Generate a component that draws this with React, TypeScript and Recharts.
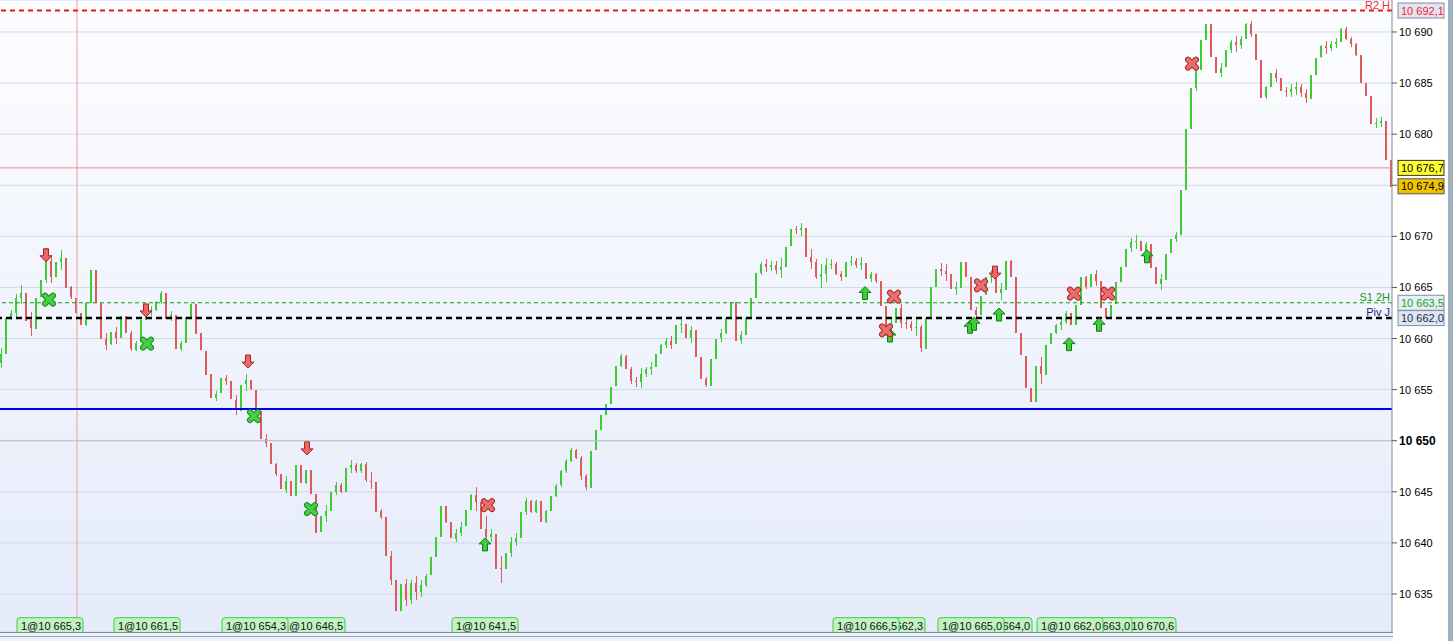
import {
  Bar,
  CartesianGrid,
  Cell,
  ComposedChart,
  ReferenceLine,
  Scatter,
  XAxis,
  YAxis,
} from "recharts"

// closing prices, one candle every ~5px of the original screen
const closes = [
  10658.5, 10662.0, 10662.5, 10664.0, 10664.5, 10661.8, 10661.0, 10664.0, 10665.7, 10667.6,
  10666.0, 10667.5, 10667.9, 10665.0, 10664.0, 10662.5, 10661.3, 10663.5, 10666.7, 10663.5,
  10660.0, 10659.4, 10660.6, 10660.0, 10662.2, 10660.5, 10658.9, 10659.6, 10661.8, 10662.6,
  10662.8, 10663.6, 10664.5, 10662.0, 10662.3, 10659.0, 10659.6, 10662.1, 10663.4, 10660.5,
  10658.8, 10656.5, 10654.2, 10654.6, 10656.1, 10655.8, 10654.0, 10653.0, 10655.5, 10655.9,
  10655.0, 10652.9, 10650.2, 10649.8, 10647.7, 10646.7, 10645.2, 10646.1, 10644.6, 10647.6,
  10645.8, 10647.1, 10644.8, 10641.0, 10642.6, 10643.1, 10645.0, 10645.7, 10645.0, 10647.3,
  10647.6, 10647.0, 10647.7, 10646.1, 10646.0, 10643.1, 10642.5, 10638.7, 10636.4, 10633.4,
  10636.0, 10634.4, 10636.1, 10635.2, 10635.9, 10636.8, 10638.6, 10640.6, 10643.6, 10642.0,
  10640.4, 10641.0, 10641.6, 10643.2, 10644.7, 10644.0, 10641.4, 10640.6, 10640.9, 10637.5,
  10637.4, 10639.0, 10640.1, 10640.5, 10643.0, 10644.1, 10643.0, 10644.1, 10642.0, 10643.1,
  10644.6, 10645.6, 10647.0, 10648.0, 10649.1, 10648.3, 10646.5, 10645.4, 10649.0, 10651.0,
  10652.5, 10653.6, 10655.3, 10657.3, 10658.3, 10657.0, 10655.8, 10655.7, 10656.5, 10657.0,
  10657.2, 10658.5, 10659.4, 10659.8, 10659.4, 10661.3, 10661.4, 10660.0, 10660.8, 10658.2,
  10656.0, 10655.4, 10658.0, 10660.0, 10660.5, 10662.0, 10663.6, 10659.8, 10660.3, 10662.0,
  10664.0, 10666.4, 10667.3, 10667.0, 10667.2, 10666.7, 10667.0, 10669.0, 10670.7, 10670.6,
  10670.8, 10668.0, 10667.5, 10666.0, 10666.3, 10667.2, 10667.3, 10666.3, 10666.0, 10667.5,
  10667.6, 10667.2, 10667.4, 10665.8, 10666.3, 10665.6, 10663.2, 10660.4, 10661.5, 10663.0,
  10661.5, 10661.4, 10661.0, 10661.1, 10659.0, 10662.0, 10665.0, 10666.8, 10666.6, 10666.3,
  10664.8, 10665.0, 10667.5, 10666.0, 10662.8, 10662.3, 10664.2, 10666.0, 10666.1, 10664.4,
  10664.8, 10667.6, 10666.0, 10660.5, 10658.3, 10655.2, 10653.8, 10657.3, 10656.5, 10659.4,
  10660.5, 10661.3, 10661.6, 10662.5, 10661.3, 10663.3, 10666.0, 10665.0, 10666.3, 10665.6,
  10663.0, 10662.0, 10663.3, 10665.5, 10667.0, 10668.8, 10669.4, 10669.5, 10668.5, 10669.3,
  10667.0, 10665.3, 10665.8, 10668.3, 10669.7, 10670.1, 10674.5, 10680.5, 10684.5, 10686.3,
  10689.2, 10690.8, 10687.6, 10686.0, 10686.5, 10688.2, 10689.0, 10688.7, 10689.3, 10690.8,
  10689.8, 10687.3, 10683.6, 10684.6, 10686.0, 10685.5, 10684.2, 10684.1, 10684.4, 10684.6,
  10684.0, 10683.5, 10685.8, 10687.5, 10688.6, 10688.4, 10688.8, 10689.0, 10690.3, 10689.3,
  10688.8, 10687.7, 10685.0, 10683.7, 10681.0, 10681.1, 10681.3, 10677.5, 10674.9,
]
const firstOpen = 10657.6

// high-low span (points) of each candle
const spans = [
  2.0, 1.0, 1.0, 2.3, 1.9, 2.3, 2.3, 1.6, 1.0, 2.3, 2.6, 1.0, 2.0, 2.0, 1.3, 1.0, 1.0, 2.3, 2.5, 1.7,
  2.0, 1.7, 1.3, 1.7, 2.0, 1.4, 2.0, 1.0, 1.4, 0.7, 1.0, 1.0, 1.3, 1.3, 1.0, 1.7, 1.0, 1.3, 1.3, 1.0,
  1.7, 1.0, 1.3, 1.0, 1.4, 1.0, 1.0, 2.0, 1.0, 1.7, 1.0, 1.4, 2.6, 1.3, 1.3, 1.3, 1.4, 1.7, 1.3, 1.0,
  1.3, 1.4, 1.3, 2.3, 1.3, 1.7, 1.4, 1.3, 1.0, 1.4, 1.3, 1.0, 1.0, 2.0, 1.7, 2.0, 1.0, 2.0, 3.3, 3.0,
  1.6, 2.6, 2.3, 2.3, 1.7, 1.3, 1.7, 2.0, 1.7, 1.7, 1.4, 1.3, 1.4, 1.4, 1.6, 2.3, 1.0, 3.3, 1.3, 2.3,
  2.6, 1.3, 2.0, 1.3, 2.0, 1.7, 1.3, 1.3, 1.6, 1.3, 1.0, 1.3, 1.7, 1.4, 1.4, 1.0, 2.3, 1.6, 1.3, 1.0,
  1.3, 1.0, 1.3, 1.3, 1.3, 1.4, 1.7, 1.0, 2.0, 1.0, 1.3, 0.7, 1.0, 1.0, 1.3, 1.0, 1.7, 1.3, 1.7, 2.0,
  1.7, 1.0, 1.4, 1.4, 1.3, 1.7, 1.6, 1.7, 1.3, 1.3, 1.4, 1.3, 1.3, 1.3, 1.0, 1.3, 2.0, 2.0, 1.0, 0.8,
  1.3, 1.7, 2.0, 2.0, 2.3, 2.3, 1.0, 1.3, 1.0, 1.4, 1.0, 1.0, 1.3, 1.0, 1.0, 1.0, 1.7, 1.6, 2.0, 1.3,
  2.3, 1.0, 1.0, 1.7, 2.6, 1.3, 2.0, 1.3, 1.3, 1.7, 1.0, 1.3, 1.0, 1.0, 1.4, 1.0, 1.0, 1.6, 1.3, 1.3,
  1.7, 1.0, 1.7, 2.3, 1.4, 1.7, 1.3, 1.6, 2.6, 1.3, 1.0, 1.0, 1.3, 1.3, 1.0, 1.0, 2.0, 1.3, 1.3, 1.6,
  1.3, 1.0, 1.0, 1.0, 1.3, 1.3, 1.4, 1.4, 1.0, 1.0, 1.3, 1.0, 1.6, 1.0, 1.0, 1.0, 3.3, 4.0, 2.0, 2.3,
  1.4, 1.6, 1.7, 1.6, 1.4, 1.0, 1.3, 1.6, 1.3, 1.6, 1.6, 1.0, 1.3, 1.3, 1.0, 1.3, 1.0, 1.0, 1.3, 1.3,
  1.3, 1.4, 1.0, 1.7, 1.3, 1.3, 1.0, 1.0, 1.4, 1.3, 1.0, 1.3, 1.3, 0.7, 1.6, 1.0, 1.0, 1.7, 2.0,
]

const yTicks = [10635, 10640, 10645, 10650, 10655, 10660, 10665, 10670, 10675, 10680, 10685, 10690]
const hiddenTickLabels = [10675] // covered by the last-price tag

// signals (candle index, price)
const sellArrows = [
  { i: 9.0, p: 10668.1 },
  { i: 29.0, p: 10662.7 },
  { i: 49.4, p: 10657.7 },
  { i: 61.2, p: 10649.2 },
  { i: 198.8, p: 10666.4 },
]
const buyArrows = [
  { i: 96.8, p: 10639.9 },
  { i: 172.8, p: 10664.5 },
  { i: 177.8, p: 10660.35 },
  { i: 193.8, p: 10661.2 },
  { i: 194.6, p: 10661.5 },
  { i: 199.6, p: 10662.4 },
  { i: 213.6, p: 10659.5 },
  { i: 219.6, p: 10661.4 },
  { i: 229.2, p: 10668.1 },
]
const greenExits = [
  { i: 9.6, p: 10663.8 },
  { i: 29.2, p: 10659.5 },
  { i: 50.6, p: 10652.4 },
  { i: 62.0, p: 10643.3 },
]
const redExits = [
  { i: 97.4, p: 10643.7 },
  { i: 178.6, p: 10664.1 },
  { i: 177.0, p: 10660.8 },
  { i: 196.0, p: 10665.2 },
  { i: 214.6, p: 10664.4 },
  { i: 221.4, p: 10664.4 },
  { i: 238.2, p: 10686.9 },
]

// order tags along the bottom
const orderTags = [
  { i: 3.2, text: "1@10 665,3" },
  { i: 22.6, text: "1@10 661,5" },
  { i: 44.2, text: "1@10 654,3" },
  { i: 55.6, text: "1@10 646,5" },
  { i: 90.2, text: "1@10 641,5" },
  { i: 166.4, text: "1@10 666,5" },
  { i: 171.6, text: "1@10 662,3" },
  { i: 187.4, text: "1@10 665,0" },
  { i: 193.0, text: "1@10 664,0" },
  { i: 207.2, text: "1@10 662,0" },
  { i: 213.0, text: "1@10 663,0" },
  { i: 221.8, text: "1@10 670,6" },
]
const tagPrice = 10631.9

const candles = closes.map((c, i) => {
  const o = i === 0 ? firstOpen : closes[i - 1]
  const mid = (o + c) / 2
  const hi = Math.max(o, c, mid + spans[i] / 2)
  const lo = Math.min(o, c, mid - spans[i] / 2)
  return { i, o, c, hi, lo, hl: [lo, hi] }
})

const FONT = "'Liberation Sans', Arial, sans-serif"
const UP = "#3fcc33"
const DOWN = "#e05a5a"

const thousands = (s: string) => s.replace(/\B(?=(\d{3})+(?!\d))/g, " ")
const fmtPrice = (v: number) => {
  const [a, b] = v.toFixed(1).split(".")
  return `${thousands(a)},${b}`
}

function YTick(props: any) {
  const { x, y, payload } = props
  if (hiddenTickLabels.includes(payload.value)) return <g />
  const bold = payload.value === 10650
  return (
    <text
      x={x}
      y={y}
      dy={4}
      fontSize={bold ? 12 : 11}
      fontWeight={bold ? "bold" : "normal"}
      fontFamily={FONT}
      fill="#000"
      textAnchor="start"
    >
      {thousands(String(payload.value))}
    </text>
  )
}

function priceTag(
  value: number,
  fill: string,
  color: string,
  border: string,
  name?: string,
  nameColor?: string
) {
  return (props: any) => {
    const vb = props.viewBox || {}
    const y = vb.y
    const right = vb.x + vb.width
    return (
      <g>
        {name && (
          <text x={right - 2} y={y - 2} textAnchor="end" fontSize={11} fontFamily={FONT} fill={nameColor}>
            {name}
          </text>
        )}
        <rect x={right + 6} y={y - 7.5} width={46} height={15} fill={fill} stroke={border} strokeWidth={1} />
        <text x={right + 9} y={y + 4} fontSize={11} fontFamily={FONT} fill={color}>
          {fmtPrice(value)}
        </text>
      </g>
    )
  }
}

// wick over the whole high-low bar, 2px body between open and close
function Candle(props: any) {
  const { x, y, width, height, fill, payload } = props
  if (height == null || height <= 0) return <g />
  const k = height / (payload.hi - payload.lo)
  const top = y + (payload.hi - Math.max(payload.o, payload.c)) * k
  const bh = Math.abs(payload.c - payload.o) * k
  const cx = Math.round(x + width / 2)
  return (
    <g shapeRendering="crispEdges">
      <rect x={cx} y={Math.round(y)} width={1} height={Math.max(1, Math.round(height))} fill={fill} />
      <rect x={cx - 1} y={Math.round(top)} width={2} height={Math.max(1, Math.round(bh))} fill={fill} />
    </g>
  )
}

function DownArrow(props: any) {
  const { cx, cy } = props
  const d = `M${cx - 2.5},${cy - 7} L${cx + 2.5},${cy - 7} L${cx + 2.5},${cy} L${cx + 6},${cy} L${cx},${cy + 6} L${cx - 6},${cy} L${cx - 2.5},${cy} Z`
  return <path d={d} fill="#ea6868" stroke="#a52222" strokeWidth={1} />
}

function UpArrow(props: any) {
  const { cx, cy } = props
  const d = `M${cx - 2.5},${cy + 7} L${cx + 2.5},${cy + 7} L${cx + 2.5},${cy} L${cx + 6},${cy} L${cx},${cy - 6} L${cx - 6},${cy} L${cx - 2.5},${cy} Z`
  return <path d={d} fill="#3ccc3c" stroke="#137a13" strokeWidth={1} />
}

function cross(fill: string, edge: string) {
  return (props: any) => {
    const { cx, cy } = props
    const s = 4
    const d = `M${cx - s},${cy - s} L${cx + s},${cy + s} M${cx + s},${cy - s} L${cx - s},${cy + s}`
    return (
      <g>
        <path d={d} stroke={edge} strokeWidth={6} strokeLinecap="round" fill="none" />
        <path d={d} stroke={fill} strokeWidth={4} strokeLinecap="round" fill="none" />
      </g>
    )
  }
}

function OrderTag(props: any) {
  const { cx, cy, payload } = props
  return (
    <g>
      <path
        d={`M${cx},${cy + 8} L${cx},${cy - 5} Q${cx},${cy - 8} ${cx + 3},${cy - 8} L${cx + 63},${cy - 8} Q${cx + 66},${cy - 8} ${cx + 66},${cy - 5} L${cx + 66},${cy + 8} Z`}
        fill="#c2f2c2"
        stroke="#3fcf3f"
        strokeWidth={1}
      />
      <text x={cx + 4} y={cy + 4} fontSize={11} fontFamily={FONT} fill="#111">
        {payload.text}
      </text>
    </g>
  )
}

export default function App() {
  return (
    <div style={{ position: "relative", width: 1453, height: 641, background: "#fff", overflow: "hidden" }}>
      <style>{"body{margin:0}"}</style>
      <ComposedChart width={1453} height={641} data={candles} margin={{ top: 0, right: 0, bottom: 9, left: 0 }}>
        <defs>
          <linearGradient id="bg" x1="0" y1="0" x2="0" y2="1">
            <stop offset="0%" stopColor="#fcfdff" />
            <stop offset="100%" stopColor="#e5ebfa" />
          </linearGradient>
        </defs>
        <CartesianGrid vertical={false} stroke="#d2d8e6" fill="url(#bg)" fillOpacity={1} />
        <XAxis dataKey="i" type="number" domain={[-0.2, 278.2]} hide allowDataOverflow />
        <YAxis
          orientation="right"
          width={61}
          domain={[10631.28, 10693.13]}
          allowDataOverflow
          ticks={yTicks}
          interval={0}
          tick={<YTick />}
          tickSize={5}
          tickMargin={2}
          axisLine={{ stroke: "#7d8c9c" }}
          tickLine={{ stroke: "#556" }}
        />
        <ReferenceLine y={10650} stroke="#b9bfcd" />
        <ReferenceLine x={15.2} stroke="#f49c9c" strokeWidth={1} />
        <ReferenceLine y={10653.1} stroke="#0000f0" strokeWidth={2} />
        <ReferenceLine
          y={10676.7}
          stroke="#f08a8a"
          strokeWidth={1}
          label={priceTag(10676.7, "#ffff30", "#000", "#333")}
        />
        <ReferenceLine
          y={10674.9}
          stroke="none"
          label={priceTag(10674.9, "#f3c300", "#000", "#555")}
        />
        <ReferenceLine
          y={10692.1}
          stroke="#ee1515"
          strokeWidth={2}
          strokeDasharray="5 4"
          label={priceTag(10692.1, "#dfe5f5", "#ff2020", "#7f8fa0", "R2 H", "#ee3030")}
        />
        <ReferenceLine
          y={10663.5}
          stroke="#169a16"
          strokeWidth={1}
          strokeDasharray="4 3"
          label={priceTag(10663.5, "#e6eef8", "#1fa01f", "#7f8fa0", "S1 2H", "#1a9a1a")}
        />
        <ReferenceLine
          y={10662.0}
          stroke="#000"
          strokeWidth={2.5}
          strokeDasharray="6 4"
          label={priceTag(10662.0, "#dfe6f3", "#1c2a50", "#7f8fa0", "Piv J", "#1c2a60")}
        />
        <Bar dataKey="hl" barSize={2} isAnimationActive={false} shape={<Candle />}>
          {candles.map((d) => (
            <Cell key={d.i} fill={d.c >= d.o ? UP : DOWN} />
          ))}
        </Bar>
        <Scatter data={[...orderTags].reverse().map((t) => ({ ...t, p: tagPrice }))} dataKey="p" shape={<OrderTag />} isAnimationActive={false} />
        <Scatter data={buyArrows} dataKey="p" shape={<UpArrow />} isAnimationActive={false} />
        <Scatter data={sellArrows} dataKey="p" shape={<DownArrow />} isAnimationActive={false} />
        <Scatter data={greenExits} dataKey="p" shape={cross("#46cf46", "#178a17")} isAnimationActive={false} />
        <Scatter data={redExits} dataKey="p" shape={cross("#ec6d6d", "#a52a2a")} isAnimationActive={false} />
      </ComposedChart>
      <div style={{ position: "absolute", left: 0, top: 632, width: 1393, height: 1, background: "#7d8c9c" }} />
      <div style={{ position: "absolute", left: 0, top: 633, width: 1393, height: 8, background: "#eef2fb" }} />
      <div style={{ position: "absolute", left: 0, top: 636, width: 1393, height: 1, background: "#9aa6b6" }} />
      <div style={{ position: "absolute", left: 1448, top: 0, width: 5, height: 641, background: "#9db1c1" }} />
    </div>
  )
}
